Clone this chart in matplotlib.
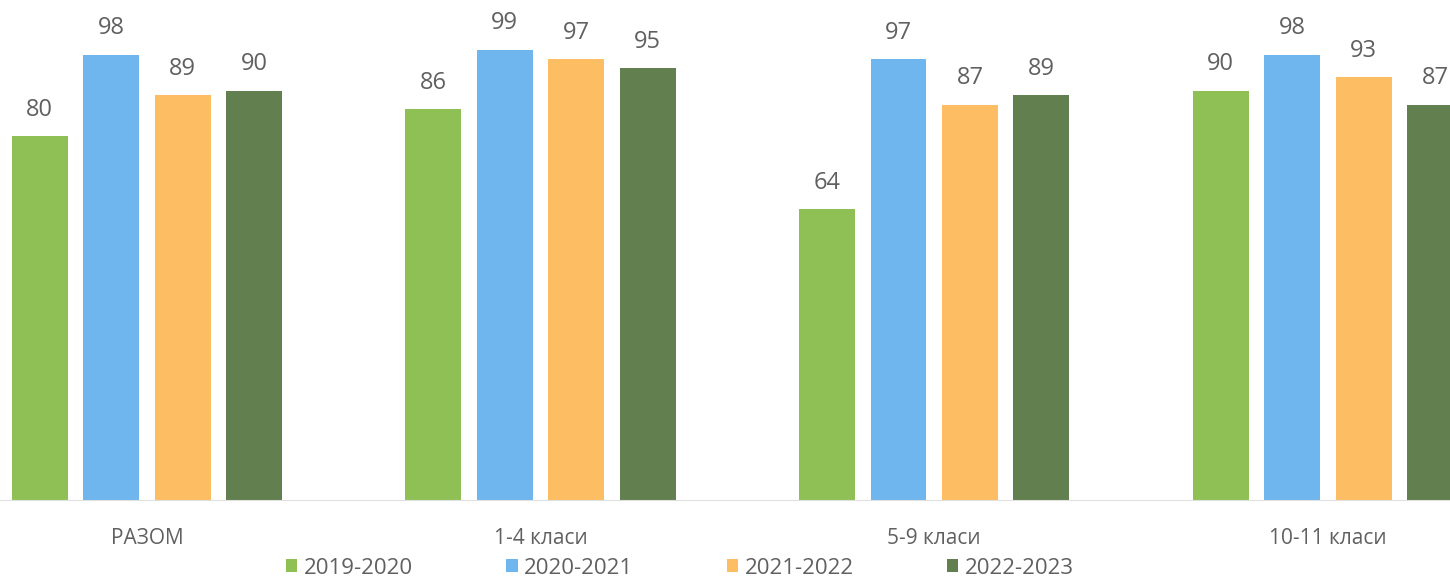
import numpy as np
import matplotlib.pyplot as plt

plt.rcParams['font.family'] = ['Open Sans', 'DejaVu Sans']

categories = ["РАЗОМ", "1-4 класи", "5-9 класи", "10-11 класи"]
years = ["2019-2020", "2020-2021", "2021-2022", "2022-2023"]
v_2019 = [80, 86, 64, 90]
v_2020 = [98, 99, 97, 98]
v_2021 = [89, 97, 87, 93]
v_2022 = [90, 95, 89, 87]
series = [v_2019, v_2020, v_2021, v_2022]
colors = ["#8fc056", "#6fb5ee", "#fdbd62", "#627f4f"]

fig = plt.figure(figsize=(14.5, 5.79), dpi=100)
ax = fig.add_axes([0, 79 / 579, 1, 500 / 579])

x = np.arange(len(categories))
slot = 0.1815
width = 0.142
for i, (vals, col, yr) in enumerate(zip(series, colors, years)):
    pos = x + (i - 1.5) * slot
    bars = ax.bar(pos, vals, width, color=col, label=yr)
    for b, v in zip(bars, vals):
        ax.text(b.get_x() + b.get_width() / 2, v + 3.2, str(v),
                ha='center', va='bottom', fontsize=17, color='#606060')

ax.set_xlim(-0.373, 3.31)
ax.set_ylim(0, 110)
ax.set_yticks([])
ax.set_xticks(x)
ax.set_xticklabels(categories, fontsize=15, color='#606060')
ax.tick_params(axis='x', length=0, pad=20)
for s in ['top', 'right', 'left']:
    ax.spines[s].set_visible(False)
ax.spines['bottom'].set_color('#e0e0e0')

fig.legend(loc='center', bbox_to_anchor=(680 / 1450, 1 - 568 / 579), ncol=4,
           frameon=False, fontsize=16, labelcolor='#606060',
           handlelength=0.5, handleheight=0.5, handletextpad=0.3,
           columnspacing=4.2)

fig.savefig("out.png", dpi=100)
